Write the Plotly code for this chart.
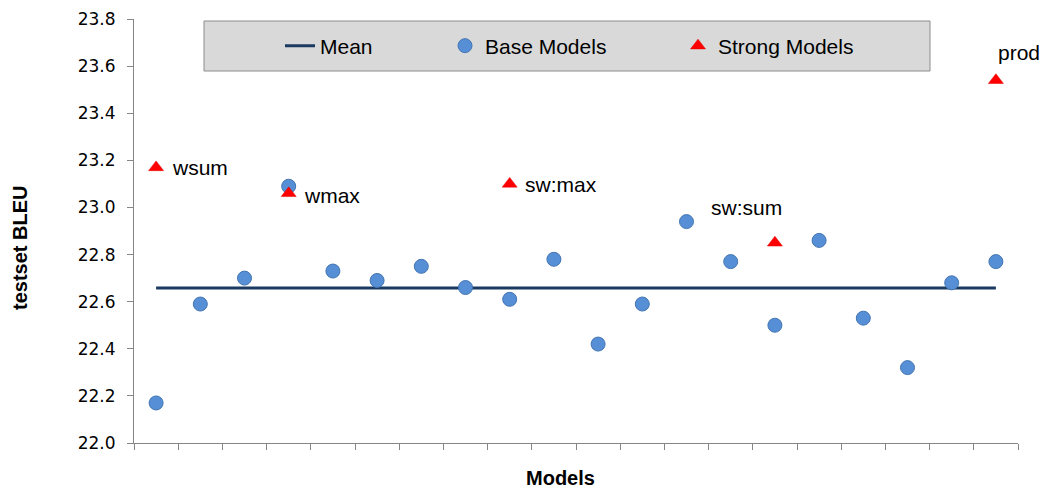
import numpy as np
import plotly.graph_objects as go

# ---- data ----
base_models_x = list(range(1, 21))
base_models_bleu = [22.17, 22.59, 22.70, 23.09, 22.73, 22.69, 22.75, 22.66, 22.61, 22.78,
                    22.42, 22.59, 22.94, 22.77, 22.50, 22.86, 22.53, 22.32, 22.68, 22.77]
strong_models_x = [1, 4, 9, 15, 20]
strong_models_bleu = [23.17, 23.06, 23.10, 22.85, 23.54]
strong_models_labels = ["wsum", "wmax", "sw:max", "sw:sum", "prod"]
y_ticks = [22.0, 22.2, 22.4, 22.6, 22.8, 23.0, 23.2, 23.4, 23.6, 23.8]

mean_bleu = float(np.mean(base_models_bleu))
mean_x = [base_models_x[0], base_models_x[-1]]
mean_y = [mean_bleu, mean_bleu]

# label placement (pixel offsets from marker)
label_style = {
    "wsum": dict(xanchor="left", xshift=14, yshift=0),
    "wmax": dict(xanchor="left", xshift=13, yshift=-2),
    "sw:max": dict(xanchor="left", xshift=13, yshift=-1),
    "sw:sum": dict(xanchor="center", xshift=-28, yshift=35),
    "prod": dict(xanchor="center", xshift=23, yshift=28),
}

TXT = "Liberation Sans, Arial, sans-serif"
AX = "#868686"

W, H = 1046, 490
L, R, T, B = 134, 28, 19, 47
pw, ph = W - L - R, H - T - B


def px_to_paper_x(px):
    return (px - L) / pw


def px_to_paper_y(py):
    return (H - B - py) / ph


fig = go.Figure()
fig.add_trace(go.Scatter(
    x=mean_x, y=mean_y, mode="lines", name="Mean",
    line=dict(color="#1B3A61", width=3), legend="legend"))
fig.add_trace(go.Scatter(
    x=base_models_x, y=base_models_bleu, mode="markers", name="Base Models",
    marker=dict(symbol="circle", size=14, color="#568FD6",
                line=dict(color="#4375B2", width=1)), legend="legend2"))
fig.add_trace(go.Scatter(
    x=strong_models_x, y=strong_models_bleu, mode="markers", name="Strong Models",
    marker=dict(symbol="triangle-up", size=13, color="#FF0000",
                line=dict(color="#E00000", width=0.5)), legend="legend3"))

annotations = []
for xv, yv, lab in zip(strong_models_x, strong_models_bleu, strong_models_labels):
    st = label_style[lab]
    annotations.append(dict(x=xv, y=yv, xref="x", yref="y", text=lab, showarrow=False,
                            xanchor=st["xanchor"], yanchor="middle",
                            xshift=st["xshift"], yshift=st["yshift"],
                            font=dict(family=TXT, size=21, color="#000000")))
annotations.append(dict(x=px_to_paper_x(560), y=px_to_paper_y(478), xref="paper", yref="paper",
                        text="<b>Models</b>", showarrow=False, xanchor="center", yanchor="middle",
                        font=dict(family=TXT, size=20, color="#000000")))
annotations.append(dict(x=px_to_paper_x(20), y=px_to_paper_y(248), xref="paper", yref="paper",
                        text="<b>testset BLEU</b>", showarrow=False, textangle=-90,
                        xanchor="center", yanchor="middle",
                        font=dict(family=TXT, size=20, color="#000000")))

leg_common = dict(orientation="h", bgcolor="rgba(0,0,0,0)", borderwidth=0,
                  font=dict(family=TXT, size=21, color="#000000"),
                  xref="paper", yref="paper", xanchor="left", yanchor="middle",
                  y=px_to_paper_y(46))

fig.update_layout(
    width=W, height=H,
    margin=dict(l=L, r=R, t=T, b=B, autoexpand=False),
    paper_bgcolor="white", plot_bgcolor="white",
    showlegend=True,
    legend=dict(leg_common, x=px_to_paper_x(280)),
    legend2=dict(leg_common, x=px_to_paper_x(445)),
    legend3=dict(leg_common, x=px_to_paper_x(678)),
    annotations=annotations,
    shapes=[dict(type="rect", xref="paper", yref="paper", layer="below",
                 x0=px_to_paper_x(204), x1=px_to_paper_x(930),
                 y0=px_to_paper_y(71), y1=px_to_paper_y(21),
                 fillcolor="#D9D9D9", line=dict(color="#8C8C8C", width=1))],
)
fig.update_xaxes(range=[0.5, 20.5], tickmode="array",
                 tickvals=[i + 0.5 for i in range(0, 21)], ticktext=[""] * 21,
                 ticks="outside", ticklen=6, tickcolor=AX, showline=True, linecolor=AX,
                 linewidth=1, showgrid=False, zeroline=False)
fig.update_yaxes(range=[22.0, 23.8], tickmode="array", tickvals=y_ticks,
                 ticktext=[f"{v:.1f}" for v in y_ticks],
                 ticks="outside", ticklen=6, tickcolor=AX, showline=True, linecolor=AX,
                 linewidth=1, showgrid=False, zeroline=False, ticklabelstandoff=8,
                 tickfont=dict(family="DejaVu Sans, sans-serif", size=17, color="#000000"))
fig.update_traces(cliponaxis=False)

fig.write_html("out.html", config={"displayModeBar": False},
               post_script="document.body.style.margin='0';document.body.style.padding='0';")
